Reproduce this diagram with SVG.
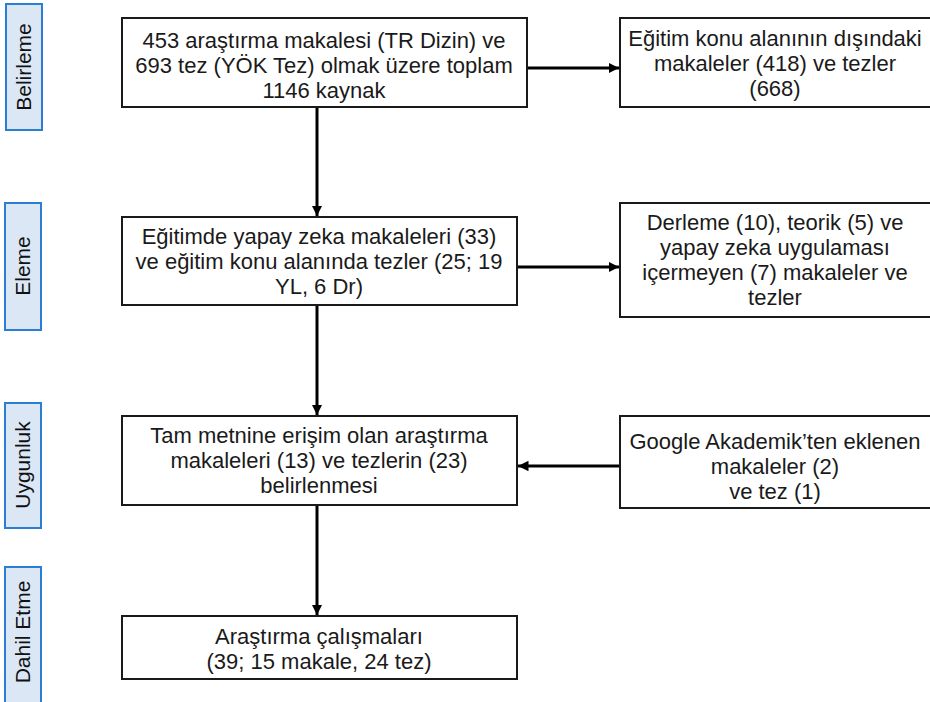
<svg xmlns="http://www.w3.org/2000/svg" width="930" height="702" viewBox="0 0 930 702">
<style>
.stage rect{fill:#dce7f5;stroke:#2a7fd4;stroke-width:2}
.stage text{font-family:"Liberation Sans",Arial,sans-serif;font-size:21px;fill:#111;text-anchor:middle}
.node rect{fill:#fff;stroke:#1a1a1a;stroke-width:2}
.node text{font-family:"Liberation Sans",Arial,sans-serif;font-size:22px;fill:#1a1a1a;text-anchor:middle}
.conn line{stroke:#000;stroke-width:3}
</style>
<defs>
<marker id="ah" viewBox="0 0 10 10" refX="10" refY="5" markerWidth="3.5" markerHeight="3.5" orient="auto" markerUnits="strokeWidth">
<path d="M0,0 L10,5 L0,10 z" fill="#000"/>
</marker>
</defs>
<rect width="930" height="702" fill="#fff"/>
<g id="stage-belirleme" class="stage"><rect x="6" y="4" width="36" height="126"/><text transform="translate(31,67) rotate(-90)">Belirleme</text></g>
<g id="stage-eleme" class="stage"><rect x="5" y="203" width="36" height="127"/><text transform="translate(30,266) rotate(-90)">Eleme</text></g>
<g id="stage-uygunluk" class="stage"><rect x="5" y="403" width="36" height="125"/><text transform="translate(30,465) rotate(-90)">Uygunluk</text></g>
<g id="stage-dahil" class="stage"><rect x="5" y="567" width="36" height="140"/><text transform="translate(30,632) rotate(-90)">Dahil Etme</text></g>

<g class="conn" id="connectors">
<line x1="317" y1="107" x2="317" y2="216" marker-end="url(#ah)"/>
<line x1="317" y1="305" x2="317" y2="415" marker-end="url(#ah)"/>
<line x1="317" y1="505" x2="317" y2="615" marker-end="url(#ah)"/>
<line x1="527" y1="68" x2="619" y2="68" marker-end="url(#ah)"/>
<line x1="517" y1="267" x2="619" y2="267" marker-end="url(#ah)"/>
<line x1="620" y1="466" x2="518" y2="466" marker-end="url(#ah)"/>
</g>

<g id="n1" class="node"><rect x="122" y="18" width="405" height="89"/>
<text x="324" y="48">453 araştırma makalesi (TR Dizin) ve</text>
<text x="324" y="73">693 tez (YÖK Tez) olmak üzere toplam</text>
<text x="324" y="98">1146 kaynak</text></g>
<g id="n2" class="node"><rect x="620" y="18" width="312" height="89"/>
<text x="775" y="46">Eğitim konu alanının dışındaki</text>
<text x="775" y="71">makaleler (418) ve tezler</text>
<text x="775" y="96">(668)</text></g>
<g id="n3" class="node"><rect x="122" y="217" width="395" height="88"/>
<text x="319" y="244">Eğitimde yapay zeka makaleleri (33)</text>
<text x="319" y="269">ve eğitim konu alanında tezler (25; 19</text>
<text x="319" y="294">YL, 6 Dr)</text></g>
<g id="n4" class="node"><rect x="620" y="203" width="312" height="114"/>
<text x="775" y="230">Derleme (10), teorik (5) ve</text>
<text x="775" y="255">yapay zeka uygulaması</text>
<text x="775" y="280">içermeyen (7) makaleler ve</text>
<text x="775" y="305">tezler</text></g>
<g id="n5" class="node"><rect x="122" y="416" width="395" height="89"/>
<text x="319" y="443">Tam metnine erişim olan araştırma</text>
<text x="319" y="468">makaleleri (13) ve tezlerin (23)</text>
<text x="319" y="493">belirlenmesi</text></g>
<g id="n6" class="node"><rect x="620" y="416" width="312" height="92"/>
<text x="775" y="449">Google Akademik’ten eklenen</text>
<text x="775" y="474">makaleler (2)</text>
<text x="775" y="499">ve tez (1)</text></g>
<g id="n7" class="node"><rect x="122" y="616" width="395" height="63"/>
<text x="319" y="644">Araştırma çalışmaları</text>
<text x="319" y="669">(39; 15 makale, 24 tez)</text></g>
</svg>
